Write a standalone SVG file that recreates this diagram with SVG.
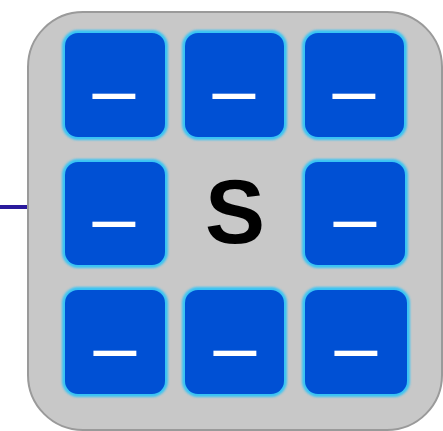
<svg xmlns="http://www.w3.org/2000/svg" width="443" height="431" viewBox="0 0 443 431">
  <defs>
    <filter id="glow" x="-10%" y="-10%" width="120%" height="120%">
      <feGaussianBlur stdDeviation="1.2"/>
    </filter>
  </defs>
  <style>
    .outer { fill: #c8c8c8; stroke: #9a9a9a; stroke-width: 2; }
    .tile-glow { fill: #38c4f4; filter: url(#glow); }
    .tile { fill: #0050d4; }
    .dash { fill: #ffffff; font-family: "Liberation Sans", Arial, sans-serif; font-size: 77px; text-anchor: middle; }
    .label { fill: #000000; font-family: "Liberation Sans", Arial, sans-serif; font-size: 90px; font-weight: bold; text-anchor: middle; }
    .conn { stroke: #2a1a9c; stroke-width: 4; fill: none; }
  </style>
  <rect width="443" height="431" fill="#ffffff"/>
  <g id="connectors">
    <line class="conn" x1="0" y1="207" x2="28" y2="207"/>
  </g>
  <g id="container">
    <rect class="outer" x="28" y="12" width="414" height="418" rx="55" ry="55"/>
    <text class="label" x="235" y="243">S</text>
  </g>
  <g id="tile-1-1">
    <rect class="tile-glow" x="62" y="30" width="106" height="110" rx="16"/>
    <rect class="tile" x="65" y="33" width="100" height="104" rx="13"/>
    <text class="dash" x="114" y="116">–</text>
  </g>
  <g id="tile-1-2">
    <rect class="tile-glow" x="182" y="30" width="105" height="110" rx="16"/>
    <rect class="tile" x="185" y="33" width="99" height="104" rx="13"/>
    <text class="dash" x="234" y="116">–</text>
  </g>
  <g id="tile-1-3">
    <rect class="tile-glow" x="302" y="30" width="105" height="110" rx="16"/>
    <rect class="tile" x="305" y="33" width="99" height="104" rx="13"/>
    <text class="dash" x="354" y="116">–</text>
  </g>
  <g id="tile-2-1">
    <rect class="tile-glow" x="62" y="159" width="106" height="109" rx="16"/>
    <rect class="tile" x="65" y="162" width="100" height="103" rx="13"/>
    <text class="dash" x="114" y="244">–</text>
  </g>
  <g id="tile-2-3">
    <rect class="tile-glow" x="302" y="159" width="106" height="109" rx="16"/>
    <rect class="tile" x="305" y="162" width="100" height="103" rx="13"/>
    <text class="dash" x="355" y="244">–</text>
  </g>
  <g id="tile-3-1">
    <rect class="tile-glow" x="62" y="287" width="106" height="110" rx="16"/>
    <rect class="tile" x="65" y="290" width="100" height="104" rx="13"/>
    <text class="dash" x="115" y="373">–</text>
  </g>
  <g id="tile-3-2">
    <rect class="tile-glow" x="182" y="287" width="105" height="110" rx="16"/>
    <rect class="tile" x="185" y="290" width="99" height="104" rx="13"/>
    <text class="dash" x="235" y="373">–</text>
  </g>
  <g id="tile-3-3">
    <rect class="tile-glow" x="302" y="287" width="108" height="110" rx="16"/>
    <rect class="tile" x="305" y="290" width="102" height="104" rx="13"/>
    <text class="dash" x="356" y="373">–</text>
  </g>
</svg>
